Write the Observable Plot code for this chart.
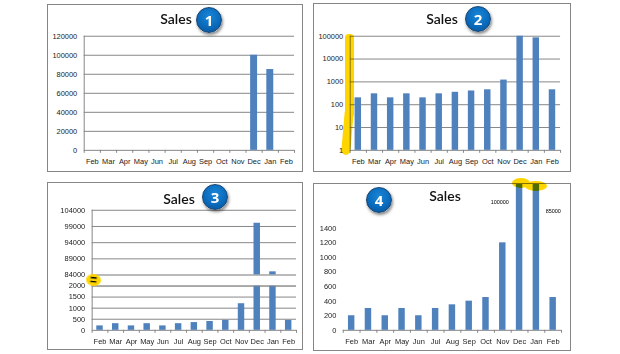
<!DOCTYPE html>
<html><head><meta charset="utf-8">
<script src="https://cdn.jsdelivr.net/npm/d3@7"></script>
<script src="https://cdn.jsdelivr.net/npm/@observablehq/plot@0.6"></script>
<style>
html,body{margin:0;padding:0;background:#fff;width:620px;height:354px;overflow:hidden}
#root{position:relative;width:620px;height:354px;isolation:isolate}
.panel{position:absolute;box-sizing:border-box;border:1.5px solid #868686;background:#fff}
.panel svg{position:absolute;left:-1.5px;top:-1.5px;overflow:visible}
.title{position:absolute;font:600 14px Lato,sans-serif;color:#111;transform:translate(-50%,-50%);white-space:nowrap}
.badge{position:absolute;width:24px;height:24px;border-radius:50%;transform:translate(-50%,-50%);
 background:radial-gradient(circle at 50% 35%,#1b86d6 0,#0a6bbd 55%,#0b4f8e 100%);
 border:1px solid #16426f;box-shadow:1px 2px 3px rgba(0,0,0,.45);
 color:#fff;font:700 15px "Open Sans",sans-serif;display:flex;align-items:center;justify-content:center}
#marks{position:absolute;left:0;top:0;width:620px;height:354px;mix-blend-mode:multiply;pointer-events:none}
.mark{position:absolute;background:#ffd500;border-radius:50%}
</style></head><body><div id="root"></div>
<script>
const months = ["Feb","Mar","Apr","May","Jun","Jul","Aug","Sep","Oct","Nov","Dec","Jan","Feb"];
const sales = [200,300,200,300,200,300,350,400,450,1200,100000,85000,450];
const ticks1 = [0,20000,40000,60000,80000,100000,120000];
const ticks2 = [1,10,100,1000,10000,100000];
const ticks3 = [0,500,1000,1500,2000,84000,89000,94000,99000,104000];
const ticks4 = [0,200,400,600,800,1000,1200,1400];
const breakBand = [[2000,84000]];
const idx = months.map((_,i)=>i);
const data = idx.map(i=>({i,v:sales[i]}));
const BLUE="#4f81bd", GRID="#868686", INK="#222";
const root=document.getElementById("root");

function panel(box,plot,opts){
  const {left,top,w,h}=box;
  const step=(w-plot.l-plot.r)/13;
  const base=opts.base;
  const div=document.createElement("div");
  div.className="panel";
  Object.assign(div.style,{left:left+"px",top:top+"px",width:w+"px",height:h+"px"});
  const bw=plot.barW;
  const svg=Plot.plot({
    width:w,height:h,marginLeft:plot.l,marginRight:plot.r,marginTop:plot.t,marginBottom:plot.b,
    style:{background:"transparent",fontFamily:"'Liberation Sans',sans-serif",fontSize:"7.5px",color:INK},
    x:{type:"band",domain:idx,padding:0,round:false,label:null},
    y:opts.y,
    marks:[
      Plot.ruleY(opts.grid??opts.ticks,{stroke:GRID,strokeWidth:1}),
      opts.noAxisLine?null:Plot.ruleX([0],{x:d=>d,dx:-step/2,stroke:GRID}),
      Plot.barY(data,{x:"i",y1:base,y2:"v",fill:BLUE,insetLeft:(step-bw)/2,insetRight:(step-bw)/2,
        filter:d=>d.v>=(opts.minVisible??0)}),
      ...(opts.over||[]).map(f=>f(step)),
      Plot.ruleX(idx,{x:d=>d,dx:-step/2,y1:base,y2:base,insetBottom:-3,stroke:GRID}),
      Plot.ruleX([12],{x:d=>d,dx:step/2,y1:base,y2:base,insetBottom:-3,stroke:GRID}),
      Plot.axisX({tickSize:0,tickPadding:8,tickFormat:i=>months[i],fontSize:7.5,label:null}),
      Plot.axisY({ticks:opts.ticks,tickSize:0,tickPadding:plot.tp??7,tickFormat:d=>String(d),fontSize:7.5,label:null}),
      ...(opts.text||[]).map(f=>f(step))
    ]
  });
  div.appendChild(svg);
  root.appendChild(div);
}
function title(x,y){const t=document.createElement("div");t.className="title";t.textContent="Sales";t.style.left=x+"px";t.style.top=y+"px";root.appendChild(t);}
function badge(x,y,n){const b=document.createElement("div");b.className="badge";b.textContent=n;b.style.left=x+"px";b.style.top=y+"px";root.appendChild(b);}

// Panel 1: linear
panel({left:47,top:4,w:256,h:168},{l:37,r:7,t:32,b:21,barW:7},{
  base:0,ticks:ticks1,minVisible:2000,y:{type:"linear",domain:[0,120000]}
});
// Panel 2: log
panel({left:313,top:3,w:258,h:169},{l:37,r:9,t:33,b:21,barW:6.5},{
  base:1,ticks:ticks2,y:{type:"log",domain:[1,100000]}
});
// Panel 3: broken axis
panel({left:47,top:182,w:256,h:168},{l:45,r:5,t:28,b:19,barW:6.5},{
  base:0,ticks:ticks3,
  y:{type:"linear",domain:[0,2000,84000,104000],range:[149,104.3,93.3,28]},
  over:[
    ()=>Plot.rect(breakBand,{y1:d=>d[0],y2:d=>d[1],fill:"#fff"}),
    ()=>Plot.ruleY(breakBand.flat(),{stroke:GRID})
  ]
});
// Panel 4: clipped top, no gridlines
panel({left:313,top:183,w:258,h:168},{l:30,r:8,t:1,b:20,barW:6.5},{
  base:0,ticks:ticks4,grid:[0],noAxisLine:true,
  y:{type:"linear",domain:[0,2000],clamp:true},
  text:[
    s=>Plot.text([10],{x:d=>d,text:d=>String(sales[d]),frameAnchor:"top",dy:16,dx:-20,fontSize:5.5,fill:"#000"}),
    s=>Plot.text([11],{x:d=>d,text:d=>String(sales[d]),frameAnchor:"top",dy:25,dx:17,fontSize:5.5,fill:"#000"})
  ]
});
title(176,18);badge(209,20,"1");
title(442,18);badge(478,19,"2");
title(179,198);badge(215,197,"3");
title(445,195);badge(379,200,"4");
// Hand-drawn highlights, grouped so that overlaps keep one colour
const marks=document.createElement("div");marks.id="marks";root.appendChild(marks);
function blob(x,y,w,h,rot,r,host){const m=document.createElement("div");m.className="mark";Object.assign(m.style,{left:x+"px",top:y+"px",width:w+"px",height:h+"px",transform:`rotate(${rot||0}deg)`});if(r)m.style.borderRadius=r;(host||marks).appendChild(m);return m;}
blob(345,34,8.5,84,0,"4px");
blob(343,108,9,47,5,"5px");
blob(512,178,18,10);
blob(525,181,22,10);
const e=blob(86,274,15,12,6,null,root);
e.style.display="flex";e.style.alignItems="center";e.style.justifyContent="center";
e.style.font="700 12px 'Liberation Sans'";e.textContent="=";
e.style.color="#000";
</script></body></html>
